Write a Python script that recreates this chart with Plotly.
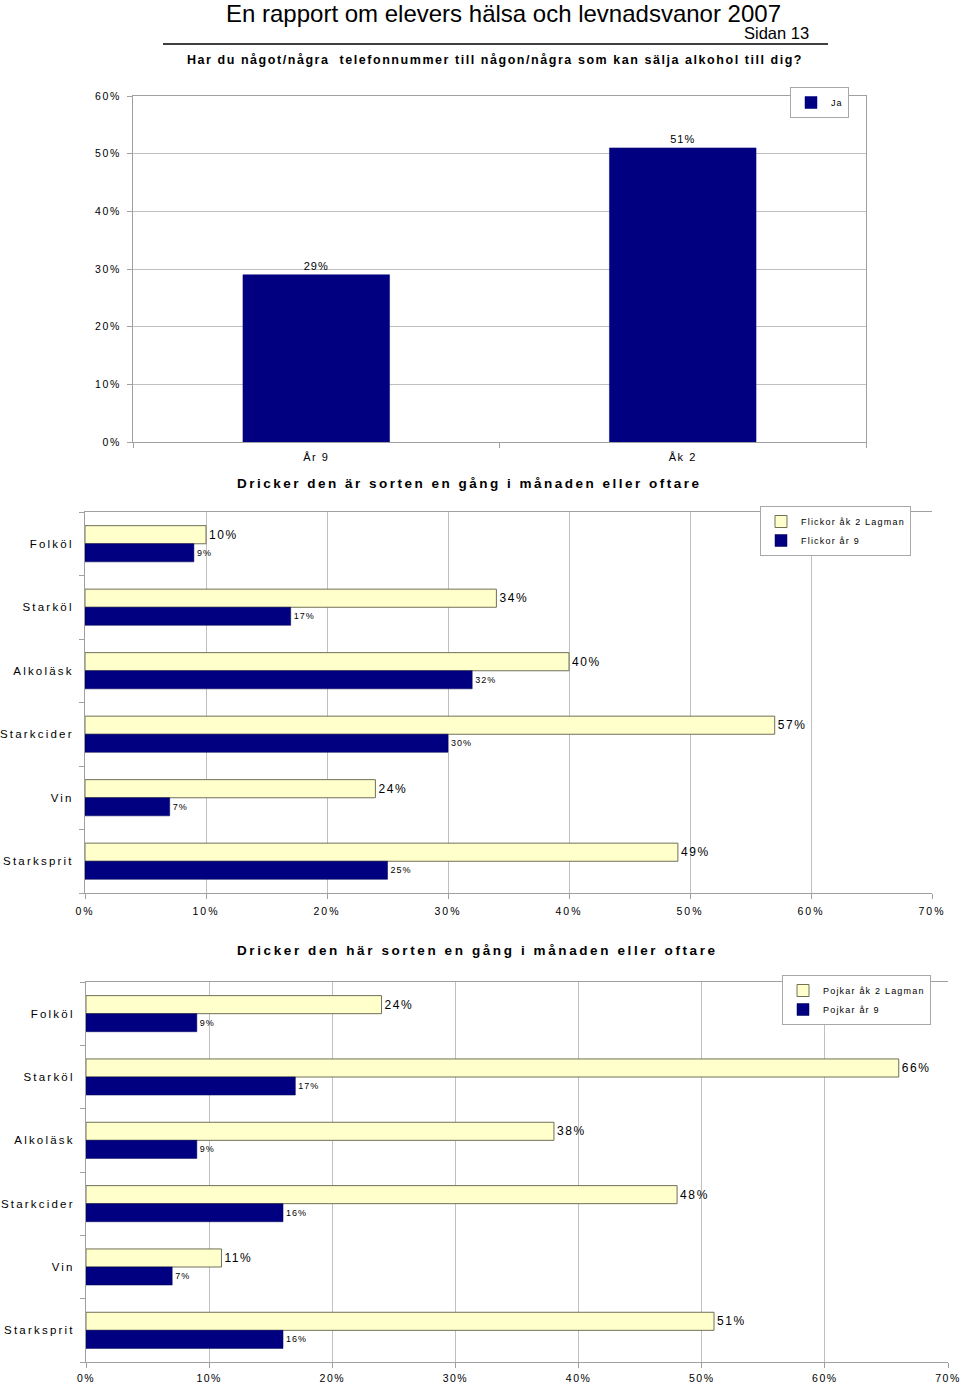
import plotly.graph_objects as go

# ---------------- data ----------------
top_categories = ["År 9", "Åk 2"]
top_values = [29, 51]          # Ja, %

drinks = ["Folköl", "Starköl", "Alkoläsk", "Starkcider", "Vin", "Starksprit"]
girls_ak2 = [10, 34, 40, 57, 24, 49]
girls_ar9 = [9, 17, 32, 30, 7, 25]
boys_ak2 = [24, 66, 38, 48, 11, 51]
boys_ar9 = [9, 17, 9, 16, 7, 16]

top_yticks = [0, 10, 20, 30, 40, 50, 60]
h_xticks = [0, 10, 20, 30, 40, 50, 60, 70]

header_title = "En rapport om elevers hälsa och levnadsvanor 2007"
page_label = "Sidan 13"
question = "Har du något/några  telefonnummer till någon/några som kan sälja alkohol till dig?"
girls_title = "Dricker den är sorten en gång i månaden eller oftare"
boys_title = "Dricker den här sorten en gång i månaden eller oftare"

# ---------------- styling helpers ----------------
W, H = 960, 1385
FONT = "Liberation Sans, Arial, sans-serif"
NARROW = "Liberation Sans Narrow, Liberation Sans, Arial, sans-serif"
NAVY = "#000080"
YELLOW = "#FFFFCC"
GRID = "#c0c0c0"
AX = "#a0a0a0"


def ls(t, px):
    return f'<span style="letter-spacing:{px}px">{t}</span>'


def px2x(p):
    return p / W


def px2y(p):
    return 1 - p / H


fig = go.Figure()

# ---- top chart ----
fig.add_trace(go.Bar(
    x=top_categories, y=top_values, name=ls("Ja", 1),
    marker=dict(color=NAVY, line=dict(color=NAVY, width=0.5)),
    width=0.4,
    text=[ls(f"{v}%", 1) for v in top_values], textposition="outside",
    textfont=dict(size=11, color="black", family=FONT),
    cliponaxis=False, constraintext="none",
    xaxis="x", yaxis="y", legend="legend",
))

# ---- girls chart ----
fig.add_trace(go.Bar(
    y=drinks, x=girls_ak2, orientation="h", name=ls("Flickor åk 2 Lagman", 1.2),
    marker=dict(color=YELLOW, line=dict(color="#707058", width=1)),
    text=[ls(f"{v}%", 1.6) for v in girls_ak2], textposition="outside",
    textfont=dict(size=12, color="black", family=FONT),
    cliponaxis=False, constraintext="none",
    xaxis="x2", yaxis="y2", legend="legend2",
))
fig.add_trace(go.Bar(
    y=drinks, x=girls_ar9, orientation="h", name=ls("Flickor år 9", 1.2),
    marker=dict(color=NAVY, line=dict(color="#000050", width=0.5)),
    text=[ls(f"{v}%", 1) for v in girls_ar9], textposition="outside",
    textfont=dict(size=9, color="black", family=FONT),
    cliponaxis=False, constraintext="none",
    xaxis="x2", yaxis="y2", legend="legend2",
))

# ---- boys chart ----
fig.add_trace(go.Bar(
    y=drinks, x=boys_ak2, orientation="h", name=ls("Pojkar åk 2 Lagman", 1.2),
    marker=dict(color=YELLOW, line=dict(color="#707058", width=1)),
    text=[ls(f"{v}%", 1.6) for v in boys_ak2], textposition="outside",
    textfont=dict(size=12, color="black", family=FONT),
    cliponaxis=False, constraintext="none",
    xaxis="x3", yaxis="y3", legend="legend3",
))
fig.add_trace(go.Bar(
    y=drinks, x=boys_ar9, orientation="h", name=ls("Pojkar år 9", 1.2),
    marker=dict(color=NAVY, line=dict(color="#000050", width=0.5)),
    text=[ls(f"{v}%", 1) for v in boys_ar9], textposition="outside",
    textfont=dict(size=9, color="black", family=FONT),
    cliponaxis=False, constraintext="none",
    xaxis="x3", yaxis="y3", legend="legend3",
))

tickfont = dict(size=10.5, color="black", family=FONT)
catfont = dict(size=11.5, color="black", family=FONT)

common_val_axis = dict(
    showgrid=True, gridcolor=GRID, gridwidth=1, zeroline=False,
    showline=True, linecolor=AX, linewidth=1, mirror=True,
    ticks="outside", ticklen=5, tickcolor=AX, tickfont=tickfont,
    ticklabeloverflow="allow",
)

legend_common = dict(
    bgcolor="white", bordercolor="#a8a8a8", borderwidth=1,
    font=dict(size=9, color="black", family=FONT),
    xanchor="left", yanchor="top", itemwidth=30, tracegroupgap=0,
    itemclick=False, itemdoubleclick=False,
)

fig.update_layout(
    width=W, height=H,
    margin=dict(l=0, r=0, t=0, b=0, autoexpand=False),
    paper_bgcolor="white", plot_bgcolor="white",
    barmode="group", bargap=0.43, bargroupgap=0,
    font=dict(family=FONT, color="black"),
    # top chart axes
    xaxis=dict(
        domain=[px2x(133), px2x(866)], anchor="y",
        type="category", range=[-0.5, 1.5],
        showline=True, linecolor=AX, mirror=True,
        ticks="outside", ticklen=5, tickcolor=AX, tickson="boundaries",
        tickvals=top_categories, ticktext=[ls(c, 1.5) for c in top_categories],
        tickfont=dict(size=11, color="black", family=FONT), showgrid=False,
        ticklabelstandoff=5,
    ),
    yaxis=dict(
        domain=[px2y(442), px2y(96)], anchor="x",
        range=[0, 60], tickvals=top_yticks,
        ticktext=[ls(f"{v}%", 1.6) for v in top_yticks],
        ticklabelstandoff=4,
        **common_val_axis,
    ),
    # girls chart axes
    xaxis2=dict(
        domain=[px2x(85), px2x(932)], anchor="y2",
        range=[0, 70], tickvals=h_xticks,
        ticktext=[ls(f"{v}%", 2) for v in h_xticks],
        ticklabelstandoff=3,
        **common_val_axis,
    ),
    yaxis2=dict(
        domain=[px2y(893), px2y(512)], anchor="x2",
        type="category", autorange="reversed",
        showline=True, linecolor=AX, showgrid=False,
        ticks="outside", ticklen=5, tickcolor=AX, tickson="boundaries",
        tickvals=drinks, ticktext=[ls(d, 2.2) for d in drinks],
        tickfont=catfont, ticklabelstandoff=8,
    ),
    # boys chart axes
    xaxis3=dict(
        domain=[px2x(86), px2x(948)], anchor="y3",
        range=[0, 70], tickvals=h_xticks,
        ticktext=[ls(f"{v}%", 1.5) for v in h_xticks],
        ticklabelstandoff=1,
        **common_val_axis,
    ),
    yaxis3=dict(
        domain=[px2y(1362), px2y(982)], anchor="x3",
        type="category", autorange="reversed",
        showline=True, linecolor=AX, showgrid=False,
        ticks="outside", ticklen=5, tickcolor=AX, tickson="boundaries",
        tickvals=drinks, ticktext=[ls(d, 2.2) for d in drinks],
        tickfont=catfont, ticklabelstandoff=8,
    ),
    legend=dict(x=px2x(790), y=px2y(87), **legend_common),
    legend2=dict(x=px2x(760), y=px2y(506), **legend_common),
    legend3=dict(x=px2x(782), y=px2y(975), **legend_common),
    showlegend=True,
)

# header texts
fig.add_annotation(text=header_title, xref="paper", yref="paper",
                   x=px2x(503), y=px2y(13), showarrow=False,
                   xanchor="center", yanchor="middle",
                   font=dict(size=24, family=NARROW, color="black"))
fig.add_annotation(text=page_label, xref="paper", yref="paper",
                   x=px2x(811), y=px2y(33), showarrow=False,
                   xanchor="right", yanchor="middle",
                   font=dict(size=16.5, family=NARROW, color="black"))
fig.add_shape(type="line", xref="paper", yref="paper",
              x0=px2x(163), x1=px2x(828), y0=px2y(44), y1=px2y(44),
              line=dict(color="black", width=1.5))
fig.add_annotation(text=ls(f"<b>{question}</b>", 1.55), xref="paper", yref="paper",
                   x=px2x(495), y=px2y(60), showarrow=False,
                   xanchor="center", yanchor="middle",
                   font=dict(size=12.5, family=FONT, color="black"))
fig.add_annotation(text=ls(f"<b>{girls_title}</b>", 2.5), xref="paper", yref="paper",
                   x=px2x(469), y=px2y(483), showarrow=False,
                   xanchor="center", yanchor="middle",
                   font=dict(size=13.5, family=FONT, color="black"))
fig.add_annotation(text=ls(f"<b>{boys_title}</b>", 2.6), xref="paper", yref="paper",
                   x=px2x(477), y=px2y(950), showarrow=False,
                   xanchor="center", yanchor="middle",
                   font=dict(size=13.5, family=FONT, color="black"))

fig.write_html(
    "out.html",
    config={"displayModeBar": False},
    post_script=(
        "document.body.style.margin='0';"
        "document.body.style.padding='0';"
        "document.documentElement.style.overflow='hidden';"
    ),
)
